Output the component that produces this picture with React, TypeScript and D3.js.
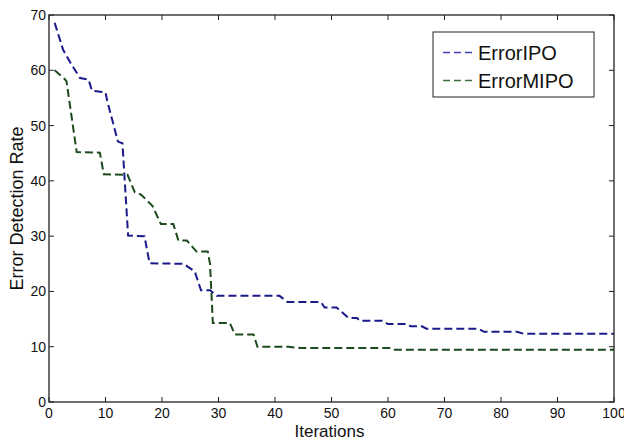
import React, { useEffect, useRef } from "react";
import * as d3 from "d3";

const W = 624;
const H = 443;

const xTicks = [0, 10, 20, 30, 40, 50, 60, 70, 80, 90, 100];
const yTicks = [0, 10, 20, 30, 40, 50, 60, 70];
const seriesNames = ["ErrorIPO", "ErrorMIPO"];
const seriesColors = ["#1a1a8a", "#1c4a1c"];
const legendColors = ["#3d3db0", "#3e6e3e"];

const ipoX = [1, 2.5, 4, 5.5, 7, 7.6, 10, 10.3, 12.2, 13, 14, 16.9, 17.8, 23.8, 25.8, 26.9, 28.5, 29.7, 40.8, 42.2, 48.1, 48.8, 50.9, 53, 54.5, 55, 59, 60, 63.3, 64, 66, 66.8, 76, 77, 82.8, 84, 100];
const ipoY = [68.6, 63.7, 61, 58.6, 58.3, 56.3, 56, 54.5, 47.1, 46.8, 30.1, 30, 25.1, 25, 23.6, 20.2, 20.2, 19.2, 19.2, 18.1, 18.1, 17.1, 17.1, 15.2, 15.2, 14.7, 14.7, 14.1, 14.1, 13.7, 13.7, 13.25, 13.25, 12.7, 12.7, 12.35, 12.35];

const mipoX = [1, 2.8, 3.1, 4.9, 9, 9.7, 13.9, 15.2, 16.3, 18.3, 19.8, 22, 22.9, 24.4, 26.1, 28.1, 28.5, 29, 32, 32.9, 36.2, 36.9, 42.4, 44.5, 60.5, 61, 100];
const mipoY = [60, 58.4, 58, 45.2, 45.1, 41.2, 41.1, 37.9, 37.5, 35.5, 32.2, 32.2, 29.2, 29.2, 27.2, 27.2, 25, 14.3, 14.3, 12.2, 12.2, 10, 10, 9.75, 9.75, 9.45, 9.45];

const margin = { left: 49, right: 10, top: 15, bottom: 41 };

export default function App() {
  const ref = useRef<SVGSVGElement>(null);

  useEffect(() => {
    document.body.style.margin = "0";
    const svg = d3.select(ref.current);
    svg.selectAll("*").remove();

    const x = d3.scaleLinear().domain([0, 100]).range([margin.left, W - margin.right]);
    const y = d3.scaleLinear().domain([0, 70]).range([H - margin.bottom, margin.top]);

    const font = "'Liberation Sans', Arial, sans-serif";
    const axisColor = "#222";

    svg.append("rect").attr("width", W).attr("height", H).attr("fill", "#fff");

    // data lines
    const series = [
      ipoX.map((v, i) => [v, ipoY[i]] as [number, number]),
      mipoX.map((v, i) => [v, mipoY[i]] as [number, number]),
    ];
    const line = d3
      .line<[number, number]>()
      .x((d) => x(d[0]))
      .y((d) => y(d[1]));

    series.forEach((s, i) => {
      svg
        .append("path")
        .datum(s)
        .attr("d", line)
        .attr("fill", "none")
        .attr("stroke", seriesColors[i])
        .attr("stroke-width", 2)
        .attr("stroke-dasharray", "8,4");
    });

    // box
    const x0 = x(0), x1 = x(100), y0 = y(0), y1 = y(70);
    svg
      .append("rect")
      .attr("x", x0)
      .attr("y", y1)
      .attr("width", x1 - x0)
      .attr("height", y0 - y1)
      .attr("fill", "none")
      .attr("stroke", axisColor)
      .attr("stroke-width", 1.3);

    const tl = 5;
    const g = svg.append("g").attr("stroke", axisColor).attr("stroke-width", 1);
    xTicks.forEach((t) => {
      g.append("line").attr("x1", x(t)).attr("x2", x(t)).attr("y1", y0).attr("y2", y0 - tl);
      g.append("line").attr("x1", x(t)).attr("x2", x(t)).attr("y1", y1).attr("y2", y1 + tl);
    });
    yTicks.forEach((t) => {
      g.append("line").attr("x1", x0).attr("x2", x0 + tl).attr("y1", y(t)).attr("y2", y(t));
      g.append("line").attr("x1", x1).attr("x2", x1 - tl).attr("y1", y(t)).attr("y2", y(t));
    });

    svg
      .append("g")
      .selectAll("text")
      .data(xTicks)
      .join("text")
      .attr("x", (d) => x(d))
      .attr("y", y0 + 16)
      .attr("text-anchor", "middle")
      .attr("font-family", font)
      .attr("font-size", 14)
      .attr("fill", "#111")
      .text((d) => String(d));

    svg
      .append("g")
      .selectAll("text")
      .data(yTicks)
      .join("text")
      .attr("x", x0 - 3)
      .attr("y", (d) => y(d) + 5)
      .attr("text-anchor", "end")
      .attr("font-family", font)
      .attr("font-size", 14)
      .attr("fill", "#111")
      .text((d) => String(d));

    svg
      .append("text")
      .attr("x", (x0 + x1) / 2 - 2)
      .attr("y", 437)
      .attr("text-anchor", "middle")
      .attr("font-family", font)
      .attr("font-size", 17)
      .attr("fill", "#111")
      .text("Iterations");

    svg
      .append("text")
      .attr("transform", `translate(23, ${(y0 + y1) / 2}) rotate(-90)`)
      .attr("text-anchor", "middle")
      .attr("font-family", font)
      .attr("font-size", 18)
      .attr("fill", "#111")
      .text("Error Detection Rate");

    // legend
    const lg = svg.append("g");
    lg.append("rect")
      .attr("x", 433)
      .attr("y", 32)
      .attr("width", 161)
      .attr("height", 65)
      .attr("fill", "#fff")
      .attr("stroke", axisColor)
      .attr("stroke-width", 1);
    seriesNames.forEach((name, i) => {
      const cy = 52.5 + i * 28;
      lg.append("line")
        .attr("x1", 443)
        .attr("x2", 476)
        .attr("y1", cy)
        .attr("y2", cy)
        .attr("stroke", legendColors[i])
        .attr("stroke-width", 1.5)
        .attr("stroke-dasharray", "7,4");
      lg.append("text")
        .attr("x", 478)
        .attr("y", cy + 7.5)
        .attr("font-family", font)
        .attr("font-size", 20)
        .attr("fill", "#111")
        .text(name);
    });
  }, []);

  return <svg ref={ref} width={W} height={H} style={{ display: "block" }} />;
}
